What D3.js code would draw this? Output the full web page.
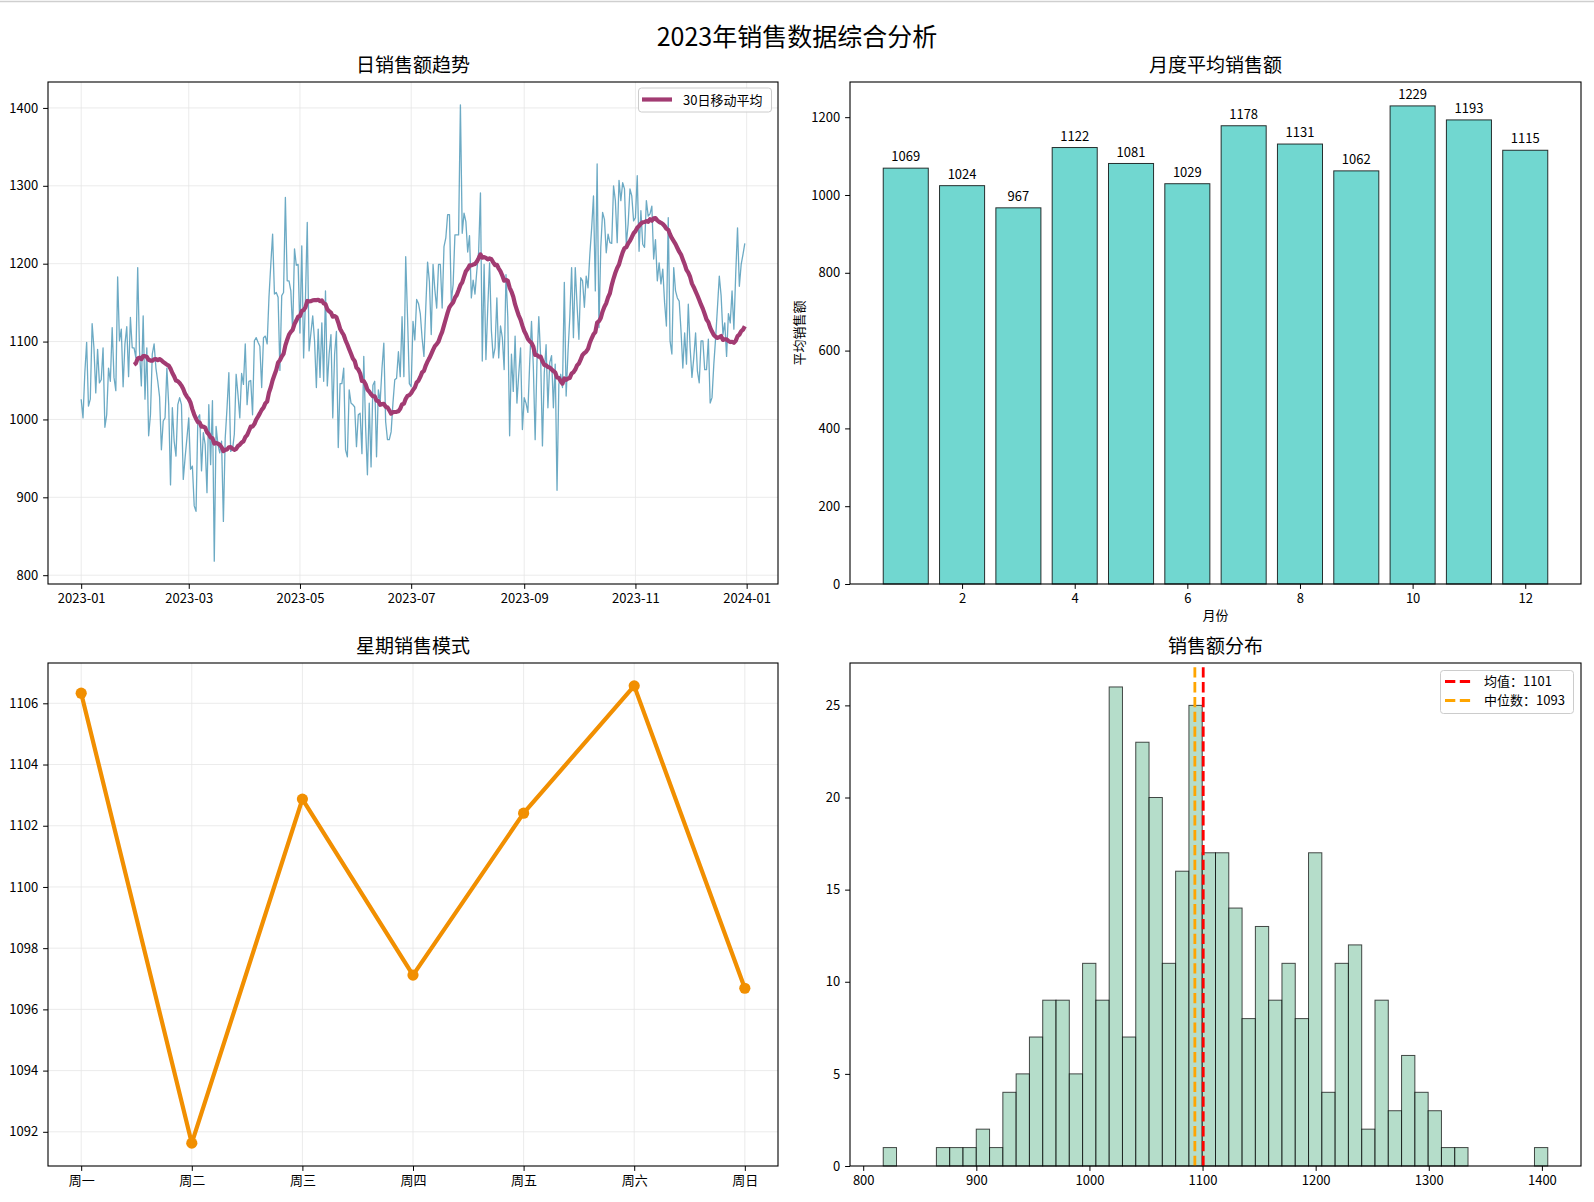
<!DOCTYPE html>
<html><head><meta charset="utf-8">
<script src="https://cdn.jsdelivr.net/npm/d3@7"></script>
<style>
body{margin:0;background:#fff;}
svg{display:block;font-family:"Noto Sans CJK SC","DejaVu Sans",sans-serif;}
</style></head><body>
<svg id="chart" width="1594" height="1202"></svg>
<script>
// ---------- DATA ----------
const startDate = "2023-01-01";
const dailySales = [
1026,1002,1060,1099,1017,1026,1123,1092,1034,1090,
1047,1051,1092,990,1006,1066,1049,1118,1054,1037,
1183,1101,1116,1042,1097,1119,1055,1131,1092,1092,
1079,1195,1088,1043,1133,1026,1092,979,1006,1084,
1097,1066,1049,1029,961,998,1002,1066,1019,916,
1015,972,953,1019,1028,1019,923,951,976,1002,
936,940,889,882,1002,1006,934,983,968,906,
1019,942,1024,818,991,968,957,972,869,976,
1015,1060,959,961,981,1058,1032,1002,1059,1045,
1097,1019,1049,1050,1006,1101,1105,1099,1094,1041,
1105,1107,1097,1157,1199,1238,1161,1163,1157,1063,
1159,1163,1285,1178,1178,1165,1113,1219,1198,1199,
1111,1223,1079,1154,1253,1088,1111,1133,1101,1041,
1116,1054,1124,1049,1165,1043,1084,1109,1002,1084,
1113,964,1046,1046,1066,961,952,1038,1021,1019,
1016,965,1006,1008,956,1081,991,929,1021,939,
1044,1049,952,1038,1023,1066,1098,997,974,974,
984,1021,1051,1053,1087,1055,1132,1055,1209,1132,
1046,1042,1126,1102,1154,1149,1136,1104,1081,1143,
1202,1177,1109,1199,1166,1143,1199,1199,1143,1222,
1233,1263,1263,1151,1173,1237,1237,1237,1404,1239,
1265,1254,1215,1236,1156,1179,1161,1191,1215,1291,
1075,1199,1077,1143,1201,1114,1079,1092,1156,1079,
1120,1105,1064,1186,1131,979,1084,1036,1107,1021,
1058,1092,987,1028,1021,1009,1072,1126,1068,974,
1075,1132,1081,966,1060,1096,1015,1073,1082,1015,
1071,909,1045,1058,1041,1176,1030,1086,1131,1195,
1105,1195,1146,1103,1182,1178,1144,1184,1169,1212,
1246,1287,1165,1328,1118,1221,1266,1257,1214,1238,
1227,1226,1300,1281,1227,1307,1281,1304,1296,1225,
1251,1296,1287,1255,1259,1313,1216,1268,1225,1221,
1281,1261,1264,1274,1206,1231,1178,1201,1174,1193,
1150,1120,1259,1101,1084,1195,1165,1156,1152,1114,
1066,1111,1071,1148,1092,1054,1079,1111,1062,1047,
1101,1101,1064,1064,1103,1021,1028,1071,1105,1144,
1184,1159,1109,1124,1081,1136,1124,1165,1116,1186,
1246,1171,1199,1212,1226
];
const maWindow = 30;
const dateTickLabels = ["2023-01","2023-03","2023-05","2023-07","2023-09","2023-11","2024-01"];
const dailyYTicks = [800,900,1000,1100,1200,1300,1400];

const months = [1,2,3,4,5,6,7,8,9,10,11,12];
const monthlyAvg = [1069,1024,967,1122,1081,1029,1178,1131,1062,1229,1193,1115];
const monthXTicks = [2,4,6,8,10,12];
const monthYTicks = [0,200,400,600,800,1000,1200];

const weekdays = ["周一","周二","周三","周四","周五","周六","周日"];
const weekdayAvg = [1106.33,1091.63,1102.87,1097.12,1102.41,1106.57,1096.69];
const weekYTicks = [1092,1094,1096,1098,1100,1102,1104,1106];

const histCounts = [1,0,0,0,1,1,1,2,1,4,5,7,9,9,5,11,9,26,7,23,20,11,16,25,
                    17,17,14,8,13,9,11,8,17,4,11,12,2,9,3,6,4,3,1,1,0,0,0,0,0,1];
const histStart = 817.7;
const histBinWidth = 11.75;
const meanSales = 1100.6;
const medianSales = 1093.2;
const histXTicks = [800,900,1000,1100,1200,1300,1400];
const histYTicks = [0,5,10,15,20,25];

// ---------- LAYOUT ----------
const svg = d3.select("#chart");
const P1 = {x0:48, x1:778, y0:82, y1:584};
const P2 = {x0:850, x1:1581, y0:82, y1:584};
const P3 = {x0:48, x1:778, y0:663, y1:1166};
const P4 = {x0:850, x1:1581, y0:663, y1:1166};
const TICK = 4.9, PAD = 4.9, FS = 13;
const gridColor = "#e6e6e6";

svg.append("rect").attr("width",1594).attr("height",1202).attr("fill","#fff");
svg.append("line").attr("x1",0).attr("x2",1594).attr("y1",1.5).attr("y2",1.5)
  .attr("stroke","#cfcfcf").attr("stroke-width",1.5);

function styleAxis(g){
  g.select(".domain").remove();
  g.selectAll(".tick line").attr("stroke","#000").attr("stroke-width",1);
  g.selectAll(".tick text").attr("fill","#000").attr("font-size",FS)
    .attr("font-family",'"Noto Sans CJK SC","DejaVu Sans",sans-serif');
}
function frame(p){
  svg.append("rect").attr("x",p.x0).attr("y",p.y0).attr("width",p.x1-p.x0).attr("height",p.y1-p.y0)
    .attr("fill","none").attr("stroke","#000").attr("stroke-width",1.1);
}
function title(p, t, y){
  svg.append("text").attr("x",(p.x0+p.x1)/2).attr("y",y).attr("text-anchor","middle")
    .attr("font-size",19).attr("fill","#000").text(t);
}
function xGrid(p, scale, vals){
  svg.append("g").selectAll("line").data(vals).join("line")
    .attr("x1",d=>scale(d)).attr("x2",d=>scale(d)).attr("y1",p.y0).attr("y2",p.y1)
    .attr("stroke",gridColor).attr("stroke-width",0.8);
}
function yGrid(p, scale, vals){
  svg.append("g").selectAll("line").data(vals).join("line")
    .attr("y1",d=>scale(d)).attr("y2",d=>scale(d)).attr("x1",p.x0).attr("x2",p.x1)
    .attr("stroke",gridColor).attr("stroke-width",0.8);
}

// Suptitle
svg.append("text").attr("x",797).attr("y",46).attr("text-anchor","middle")
  .attr("font-size",25).attr("fill","#000").text("2023年销售数据综合分析");

// ---------- PANEL 1: daily trend ----------
(function(){
  const parseDay = d3.timeParse("%Y-%m-%d");
  const parseMonth = d3.timeParse("%Y-%m");
  const d0 = parseDay(startDate);
  const dates = dailySales.map((_,i)=>d3.timeDay.offset(d0,i));
  const span = dates[dates.length-1]-dates[0];
  const x = d3.scaleTime()
    .domain([new Date(+dates[0]-span*0.05), new Date(+dates[dates.length-1]+span*0.05)])
    .range([P1.x0,P1.x1]);
  const ext = d3.extent(dailySales);
  const yp = (ext[1]-ext[0])*0.05;
  const y = d3.scaleLinear().domain([ext[0]-yp, ext[1]+yp]).range([P1.y1,P1.y0]);
  const tickDates = dateTickLabels.map(parseMonth);
  xGrid(P1, x, tickDates);
  yGrid(P1, y, dailyYTicks);

  const line = d3.line().x((d,i)=>x(dates[i])).y(d=>y(d));
  svg.append("path").datum(dailySales).attr("d",line).attr("fill","none")
    .attr("stroke","#2E86AB").attr("stroke-opacity",0.7).attr("stroke-width",1.3)
    .attr("stroke-linejoin","round");

  const ma = [];
  for(let i=maWindow-1;i<dailySales.length;i++){
    ma.push({i, v:d3.mean(dailySales.slice(i-maWindow+1,i+1))});
  }
  svg.append("path").datum(ma)
    .attr("d", d3.line().x(d=>x(dates[d.i])).y(d=>y(d.v)))
    .attr("fill","none").attr("stroke","#A23B72").attr("stroke-width",4.2)
    .attr("stroke-linejoin","round").attr("stroke-linecap","butt");

  svg.append("g").attr("transform",`translate(0,${P1.y1})`)
    .call(d3.axisBottom(x).tickValues(tickDates).tickFormat(d3.timeFormat("%Y-%m")).tickSize(TICK).tickPadding(PAD))
    .call(styleAxis);
  svg.append("g").attr("transform",`translate(${P1.x0},0)`)
    .call(d3.axisLeft(y).tickValues(dailyYTicks).tickFormat(d3.format("d")).tickSize(TICK).tickPadding(PAD))
    .call(styleAxis);
  frame(P1);
  title(P1,"日销售额趋势",72);

  // legend
  const lg = svg.append("g");
  lg.append("rect").attr("x",638.5).attr("y",88).attr("width",133).attr("height",24).attr("rx",3)
    .attr("fill","#fff").attr("fill-opacity",0.8).attr("stroke","#cccccc").attr("stroke-width",1);
  lg.append("line").attr("x1",642).attr("x2",672).attr("y1",99.5).attr("y2",99.5)
    .attr("stroke","#A23B72").attr("stroke-width",4.2);
  lg.append("text").attr("x",683).attr("y",104.5).attr("font-size",FS).attr("fill","#000").text("30日移动平均");
})();

// ---------- PANEL 2: monthly average ----------
(function(){
  const lo = months[0]-0.4, hi = months[months.length-1]+0.4;
  const xp = (hi-lo)*0.05;
  const x = d3.scaleLinear().domain([lo-xp, hi+xp]).range([P2.x0,P2.x1]);
  const y = d3.scaleLinear().domain([0, d3.max(monthlyAvg)*1.05]).range([P2.y1,P2.y0]);
  svg.append("g").selectAll("rect").data(months).join("rect")
    .attr("x",d=>x(d-0.4)).attr("width",d=>x(d+0.4)-x(d-0.4))
    .attr("y",(d,i)=>y(monthlyAvg[i])).attr("height",(d,i)=>y(0)-y(monthlyAvg[i]))
    .attr("fill","#4ECDC4").attr("fill-opacity",0.8)
    .attr("stroke","#000").attr("stroke-opacity",0.8).attr("stroke-width",1);
  svg.append("g").selectAll("text").data(months).join("text")
    .attr("x",d=>x(d)).attr("y",(d,i)=>y(monthlyAvg[i]+10)-3)
    .attr("text-anchor","middle").attr("font-size",FS).attr("fill","#000")
    .text((d,i)=>d3.format("d")(monthlyAvg[i]));
  svg.append("g").attr("transform",`translate(0,${P2.y1})`)
    .call(d3.axisBottom(x).tickValues(monthXTicks).tickFormat(d3.format("d")).tickSize(TICK).tickPadding(PAD))
    .call(styleAxis);
  svg.append("g").attr("transform",`translate(${P2.x0},0)`)
    .call(d3.axisLeft(y).tickValues(monthYTicks).tickFormat(d3.format("d")).tickSize(TICK).tickPadding(PAD))
    .call(styleAxis);
  frame(P2);
  title(P2,"月度平均销售额",72);
  svg.append("text").attr("x",(P2.x0+P2.x1)/2).attr("y",620).attr("text-anchor","middle")
    .attr("font-size",FS).attr("fill","#000").text("月份");
  svg.append("text").attr("transform",`translate(804,${(P2.y0+P2.y1)/2}) rotate(-90)`)
    .attr("text-anchor","middle").attr("font-size",FS).attr("fill","#000").text("平均销售额");
})();

// ---------- PANEL 3: weekday pattern ----------
(function(){
  const n = weekdays.length;
  const xp = (n-1)*0.05;
  const x = d3.scaleLinear().domain([-xp, n-1+xp]).range([P3.x0,P3.x1]);
  const ext = d3.extent(weekdayAvg);
  const yp = (ext[1]-ext[0])*0.05;
  const y = d3.scaleLinear().domain([ext[0]-yp, ext[1]+yp]).range([P3.y1,P3.y0]);
  const idx = d3.range(n);
  xGrid(P3, x, idx);
  yGrid(P3, y, weekYTicks);
  svg.append("path").datum(weekdayAvg)
    .attr("d", d3.line().x((d,i)=>x(i)).y(d=>y(d)))
    .attr("fill","none").attr("stroke","#F18F01").attr("stroke-width",4.2).attr("stroke-linejoin","round");
  svg.append("g").selectAll("circle").data(weekdayAvg).join("circle")
    .attr("cx",(d,i)=>x(i)).attr("cy",d=>y(d)).attr("r",5.6).attr("fill","#F18F01");
  svg.append("g").attr("transform",`translate(0,${P3.y1})`)
    .call(d3.axisBottom(x).tickValues(idx).tickFormat(i=>weekdays[i]).tickSize(TICK).tickPadding(PAD))
    .call(styleAxis);
  svg.append("g").attr("transform",`translate(${P3.x0},0)`)
    .call(d3.axisLeft(y).tickValues(weekYTicks).tickFormat(d3.format("d")).tickSize(TICK).tickPadding(PAD))
    .call(styleAxis);
  frame(P3);
  title(P3,"星期销售模式",653);
})();

// ---------- PANEL 4: histogram ----------
(function(){
  const bins = histCounts.map((c,i)=>({x0:histStart+i*histBinWidth, x1:histStart+(i+1)*histBinWidth, c}));
  const lo = bins[0].x0, hi = bins[bins.length-1].x1;
  const xp = (hi-lo)*0.05;
  const x = d3.scaleLinear().domain([lo-xp, hi+xp]).range([P4.x0,P4.x1]);
  const y = d3.scaleLinear().domain([0, d3.max(histCounts)*1.05]).range([P4.y1,P4.y0]);
  svg.append("g").selectAll("rect").data(bins.filter(b=>b.c>0)).join("rect")
    .attr("x",d=>x(d.x0)).attr("width",d=>x(d.x1)-x(d.x0))
    .attr("y",d=>y(d.c)).attr("height",d=>y(0)-y(d.c))
    .attr("fill","#96CEB4").attr("fill-opacity",0.7)
    .attr("stroke","#000").attr("stroke-opacity",0.7).attr("stroke-width",1);
  const dash = "10.3,4.5";
  svg.append("line").attr("x1",x(medianSales)).attr("x2",x(medianSales)).attr("y1",P4.y1).attr("y2",P4.y0)
    .attr("stroke","#FFA500").attr("stroke-width",2.8).attr("stroke-dasharray",dash);
  svg.append("line").attr("x1",x(meanSales)).attr("x2",x(meanSales)).attr("y1",P4.y1).attr("y2",P4.y0)
    .attr("stroke","#FF0000").attr("stroke-width",2.8).attr("stroke-dasharray",dash);
  svg.append("g").attr("transform",`translate(0,${P4.y1})`)
    .call(d3.axisBottom(x).tickValues(histXTicks).tickFormat(d3.format("d")).tickSize(TICK).tickPadding(PAD))
    .call(styleAxis);
  svg.append("g").attr("transform",`translate(${P4.x0},0)`)
    .call(d3.axisLeft(y).tickValues(histYTicks).tickFormat(d3.format("d")).tickSize(TICK).tickPadding(PAD))
    .call(styleAxis);
  frame(P4);
  title(P4,"销售额分布",653);
  const lg = svg.append("g");
  lg.append("rect").attr("x",1440.5).attr("y",670.5).attr("width",133).attr("height",43).attr("rx",3)
    .attr("fill","#fff").attr("fill-opacity",0.8).attr("stroke","#cccccc").attr("stroke-width",1);
  const items = [
    {c:"#FF0000", t:`均值：${d3.format("d")(Math.round(meanSales))}`, y:681.5},
    {c:"#FFA500", t:`中位数：${d3.format("d")(Math.round(medianSales))}`, y:700.5}
  ];
  items.forEach(it=>{
    lg.append("line").attr("x1",1445).attr("x2",1472).attr("y1",it.y).attr("y2",it.y)
      .attr("stroke",it.c).attr("stroke-width",2.8).attr("stroke-dasharray",dash);
    lg.append("text").attr("x",1484).attr("y",it.y+4.6).attr("font-size",FS).attr("fill","#000").text(it.t);
  });
})();
</script>
</body></html>
